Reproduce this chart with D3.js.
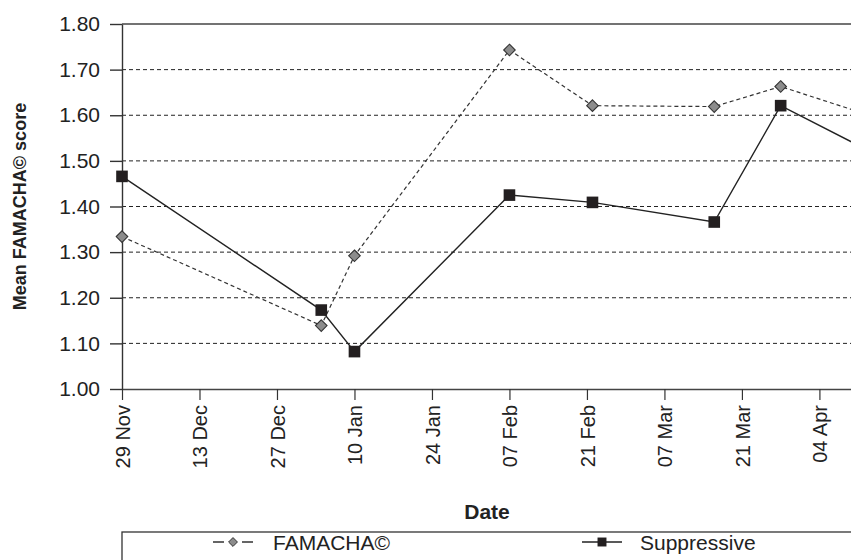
<!DOCTYPE html>
<html>
<head>
<meta charset="utf-8">
<script src="https://cdn.jsdelivr.net/npm/d3@7"></script>
<style>
  body { margin: 0; background: #fff; }
  svg { display: block; font-family: "Liberation Sans", Arial, sans-serif; }
</style>
</head>
<body>
<svg id="chart"></svg>
<script>
// sampling dates (last one sits just past the cropped right edge)
const dates = ['2010-11-29', '2011-01-04', '2011-01-10', '2011-02-07', '2011-02-22', '2011-03-16', '2011-03-28', '2011-04-12'];
const famacha = [1.334, 1.139, 1.292, 1.743, 1.621, 1.619, 1.663, 1.604];
const suppressive = [1.466, 1.173, 1.082, 1.425, 1.409, 1.366, 1.621, 1.528];
const yTicks = [1.00, 1.10, 1.20, 1.30, 1.40, 1.50, 1.60, 1.70, 1.80];
const xTickDates = ['2010-11-29', '2010-12-13', '2010-12-27', '2011-01-10', '2011-01-24', '2011-02-07', '2011-02-21', '2011-03-07', '2011-03-21', '2011-04-04'];
const seriesNames = ['FAMACHA©', 'Suppressive'];

class LineChart {

  constructor(_config) {
    this.config = {
      parentElement: _config.parentElement,
      containerWidth: 851,
      containerHeight: 560,
      margin: {top: 24, right: 0, bottom: 171, left: 122},
    }
    this.initVis();
  }

  initVis() {
    let vis = this;
    vis.height = vis.config.containerHeight - vis.config.margin.top - vis.config.margin.bottom;

    vis.parse = d3.utcParse('%Y-%m-%d');
    let start = vis.parse('2010-11-29');
    let end = vis.parse('2011-04-18');

    // 14 days ~ 77.5px, plot runs on past the window edge
    vis.xScale = d3.scaleUtc()
                   .domain([start, end])
                   .range([0, 140 * 5.535]);

    vis.yScale = d3.scaleLinear()
                   .domain([1.0, 1.8])
                   .range([vis.height, 0]);

    vis.svg = d3.select(vis.config.parentElement)
                .attr('width', vis.config.containerWidth)
                .attr('height', vis.config.containerHeight);

    vis.chart = vis.svg.append('g')
                   .attr('transform', `translate(${vis.config.margin.left},${vis.config.margin.top})`);

    vis.xAxis = d3.axisBottom(vis.xScale)
                  .tickValues(xTickDates.map(vis.parse))
                  .tickFormat(d3.utcFormat('%d %b'))
                  .tickSize(11)
                  .tickSizeOuter(0);

    vis.yAxis = d3.axisLeft(vis.yScale)
                  .tickValues(yTicks)
                  .tickFormat(d3.format('.2f'))
                  .tickSize(12)
                  .tickPadding(10)
                  .tickSizeOuter(0);
  }

  renderVis() {
    let vis = this;
    let W = vis.xScale.range()[1];

    // dashed grid
    vis.chart.append('g')
       .selectAll('line')
       .data(yTicks.filter(d => d > 1.0 && d < 1.8))
       .join('line')
         .attr('x1', 0).attr('x2', W)
         .attr('y1', d => vis.yScale(d)).attr('y2', d => vis.yScale(d))
         .attr('stroke', '#222')
         .attr('stroke-width', 1)
         .attr('stroke-dasharray', '4,3');

    // top border
    vis.chart.append('line')
       .attr('x1', 0).attr('x2', W)
       .attr('y1', vis.yScale(1.8)).attr('y2', vis.yScale(1.8))
       .attr('stroke', '#444')
       .attr('stroke-width', 1.6);

    let yAxisG = vis.chart.append('g').call(vis.yAxis);
    yAxisG.select('.domain').attr('stroke', '#333').attr('stroke-width', 1.4);
    yAxisG.selectAll('.tick line').attr('stroke', '#333').attr('stroke-width', 1.4);
    yAxisG.selectAll('text')
          .style('font-size', '21px')
          .attr('fill', '#222');

    let xAxisG = vis.chart.append('g')
                    .attr('transform', `translate(0,${vis.height})`)
                    .call(vis.xAxis);
    xAxisG.select('.domain').attr('stroke', '#444').attr('stroke-width', 1.6);
    xAxisG.selectAll('.tick line').attr('stroke', '#333').attr('stroke-width', 1.2);
    xAxisG.selectAll('text')
          .style('font-size', '20px')
          .attr('fill', '#222')
          .attr('text-anchor', 'end')
          .attr('transform', 'rotate(-90)')
          .attr('x', -16)
          .attr('y', 0)
          .attr('dy', '0.36em');

    // axis titles
    vis.svg.append('text')
       .attr('transform', `translate(26,${vis.config.margin.top + vis.yScale(1.4)}) rotate(-90)`)
       .attr('text-anchor', 'middle')
       .style('font-size', '18px')
       .style('font-weight', 'bold')
       .attr('fill', '#222')
       .text('Mean FAMACHA© score');

    vis.svg.append('text')
       .attr('x', 487)
       .attr('y', 519)
       .attr('text-anchor', 'middle')
       .style('font-size', '21px')
       .style('font-weight', 'bold')
       .attr('fill', '#222')
       .text('Date');

    let famData = dates.map((d, i) => ({date: vis.parse(d), value: famacha[i]}));
    let supData = dates.map((d, i) => ({date: vis.parse(d), value: suppressive[i]}));

    let line = d3.line()
                 .x(d => vis.xScale(d.date))
                 .y(d => vis.yScale(d.value));

    vis.chart.append('path')
       .datum(famData)
       .attr('d', line)
       .attr('fill', 'none')
       .attr('stroke', '#333')
       .attr('stroke-width', 1.2)
       .attr('stroke-dasharray', '4,3');

    vis.chart.append('path')
       .datum(supData)
       .attr('d', line)
       .attr('fill', 'none')
       .attr('stroke', '#222')
       .attr('stroke-width', 1.4);

    let diamond = d3.symbol().type(d3.symbolDiamond2).size(85);
    let square = d3.symbol().type(d3.symbolSquare).size(135);

    vis.chart.append('g')
       .selectAll('path')
       .data(famData)
       .join('path')
         .attr('transform', d => `translate(${vis.xScale(d.date)},${vis.yScale(d.value)})`)
         .attr('d', diamond)
         .attr('fill', '#8c8c8c')
         .attr('stroke', '#333')
         .attr('stroke-width', 1.1);

    vis.chart.append('g')
       .selectAll('path')
       .data(supData)
       .join('path')
         .attr('transform', d => `translate(${vis.xScale(d.date)},${vis.yScale(d.value)})`)
         .attr('d', square)
         .attr('fill', '#231f20');

    // legend box (cut by the bottom edge)
    let legend = vis.svg.append('g');
    legend.append('rect')
          .attr('x', 122).attr('y', 532)
          .attr('width', 800).attr('height', 80)
          .attr('fill', 'none')
          .attr('stroke', '#333')
          .attr('stroke-width', 1.3);

    let ly = 542;
    legend.append('line')
          .attr('x1', 213).attr('x2', 253).attr('y1', ly).attr('y2', ly)
          .attr('stroke', '#333').attr('stroke-width', 1.3)
          .attr('stroke-dasharray', '11,18');
    legend.append('path')
          .attr('transform', `translate(233,${ly})`)
          .attr('d', d3.symbol().type(d3.symbolDiamond2).size(50))
          .attr('fill', '#8c8c8c').attr('stroke', '#333').attr('stroke-width', 1);
    legend.append('text')
          .attr('x', 273).attr('y', ly + 8)
          .style('font-size', '21px').attr('fill', '#222')
          .text(seriesNames[0]);

    legend.append('line')
          .attr('x1', 582).attr('x2', 622).attr('y1', ly).attr('y2', ly)
          .attr('stroke', '#222').attr('stroke-width', 1.4);
    legend.append('path')
          .attr('transform', `translate(602,${ly})`)
          .attr('d', d3.symbol().type(d3.symbolSquare).size(80))
          .attr('fill', '#231f20');
    legend.append('text')
          .attr('x', 640).attr('y', ly + 8)
          .style('font-size', '21px').attr('fill', '#222')
          .text(seriesNames[1]);
  }
}

let chart = new LineChart({parentElement: '#chart'});
chart.renderVis();
</script>
</body>
</html>
